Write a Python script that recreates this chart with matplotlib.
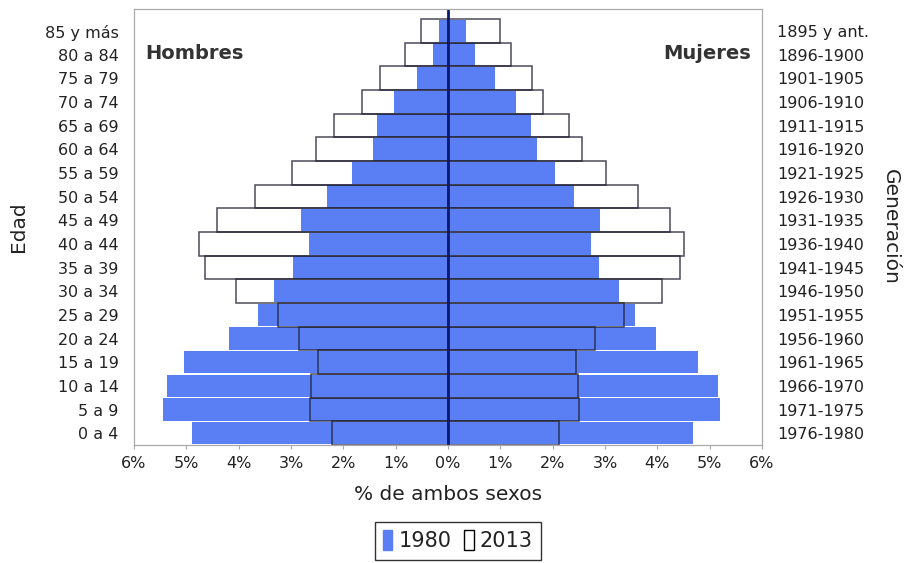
import matplotlib
matplotlib.use("Agg")
import matplotlib.pyplot as plt
from matplotlib.patches import Patch
from matplotlib.ticker import FixedLocator, FuncFormatter

# ---------------------------------------------------------
# Data (percent of both sexes), bottom row first
# ---------------------------------------------------------
edades = ["0 a 4", "5 a 9", "10 a 14", "15 a 19", "20 a 24", "25 a 29",
          "30 a 34", "35 a 39", "40 a 44", "45 a 49", "50 a 54", "55 a 59",
          "60 a 64", "65 a 69", "70 a 74", "75 a 79", "80 a 84", "85 y más"]
generaciones = ["1976-1980", "1971-1975", "1966-1970", "1961-1965", "1956-1960",
                "1951-1955", "1946-1950", "1941-1945", "1936-1940", "1931-1935",
                "1926-1930", "1921-1925", "1916-1920", "1911-1915", "1906-1910",
                "1901-1905", "1896-1900", "1895 y ant."]

hombres_1980 = [4.90, 5.45, 5.36, 5.04, 4.18, 3.64, 3.32, 2.97, 2.66, 2.80,
                2.32, 1.84, 1.43, 1.35, 1.03, 0.59, 0.28, 0.17]
mujeres_1980 = [4.68, 5.19, 5.15, 4.78, 3.97, 3.57, 3.26, 2.88, 2.74, 2.91,
                2.41, 2.04, 1.70, 1.59, 1.30, 0.90, 0.51, 0.34]
hombres_2013 = [2.22, 2.63, 2.62, 2.48, 2.85, 3.25, 4.06, 4.64, 4.75, 4.41,
                3.69, 2.98, 2.52, 2.17, 1.64, 1.30, 0.83, 0.52]
mujeres_2013 = [2.12, 2.51, 2.48, 2.45, 2.80, 3.37, 4.09, 4.44, 4.50, 4.24,
                3.64, 3.01, 2.57, 2.31, 1.82, 1.61, 1.21, 1.00]

x_ticks = [-6, -5, -4, -3, -2, -1, 0, 1, 2, 3, 4, 5, 6]

# ---------------------------------------------------------
# Plot
# ---------------------------------------------------------
plt.rcParams['font.family'] = ['DejaVu Sans']

blue = '#5a7ff5'
edge = (0.12, 0.12, 0.2, 0.8)
grey = '#a8a8a8'
txt = '#222222'

fig = plt.figure(figsize=(9.06, 5.63), dpi=100)
ax = fig.add_axes([134 / 906, 1 - 445 / 563, 628 / 906, 436 / 563])

y = list(range(len(edades)))

ax.barh(y, [-v for v in hombres_1980], height=0.95, color=blue, linewidth=0)
ax.barh(y, mujeres_1980, height=0.95, color=blue, linewidth=0)
ax.barh(y, [-v for v in hombres_2013], height=1.0, fill=False,
        edgecolor=edge, linewidth=1.1)
ax.barh(y, mujeres_2013, height=1.0, fill=False,
        edgecolor=edge, linewidth=1.1)
ax.axvline(0, color='#0a1a70', linewidth=2)

ax.set_xlim(-6, 6)
ax.set_ylim(-0.5, 17.93)
ax.xaxis.set_major_locator(FixedLocator(x_ticks))
ax.xaxis.set_major_formatter(FuncFormatter(lambda v, p: f"{abs(v):.0f}%"))
ax.set_yticks(y)
ax.set_yticklabels(edades)
ax.tick_params(axis='x', length=3, color=grey, labelsize=11.5, pad=5,
               labelcolor=txt)
ax.tick_params(axis='y', length=0, labelsize=11.5, pad=11, labelcolor=txt)
for s in ax.spines.values():
    s.set_color(grey)

ax.set_xlabel("% de ambos sexos", fontsize=14.5, labelpad=10, color=txt)
ax.set_ylabel("Edad", fontsize=14.5, labelpad=12, color=txt)

ax2 = ax.twinx()
ax2.set_ylim(ax.get_ylim())
ax2.set_yticks(y)
ax2.set_yticklabels(generaciones)
ax2.tick_params(axis='y', length=0, labelsize=11.5, pad=11, labelcolor=txt)
ax2.set_ylabel("Generación", fontsize=14.5, rotation=270, labelpad=22, color=txt)
for s in ax2.spines.values():
    s.set_color(grey)

ax.text(0.018, 0.898, "Hombres", transform=ax.transAxes, fontsize=14,
        fontweight='bold', color='#333333', ha='left', va='center')
ax.text(0.982, 0.898, "Mujeres", transform=ax.transAxes, fontsize=14,
        fontweight='bold', color='#333333', ha='right', va='center')

handles = [Patch(facecolor=blue, edgecolor=blue, label='1980'),
           Patch(facecolor='white', edgecolor='black', label='2013')]
leg = fig.legend(handles=handles, loc='upper center', ncol=2,
                 bbox_to_anchor=(458 / 906, 41 / 563), fontsize=15,
                 frameon=True, fancybox=False, edgecolor='black',
                 handlelength=0.45, handleheight=1.1, handletextpad=0.3,
                 columnspacing=0.6, borderpad=0.4, borderaxespad=0)
leg.get_frame().set_linewidth(1.0)
for t in leg.get_texts():
    t.set_color(txt)

plt.savefig("out.png", dpi=100)
